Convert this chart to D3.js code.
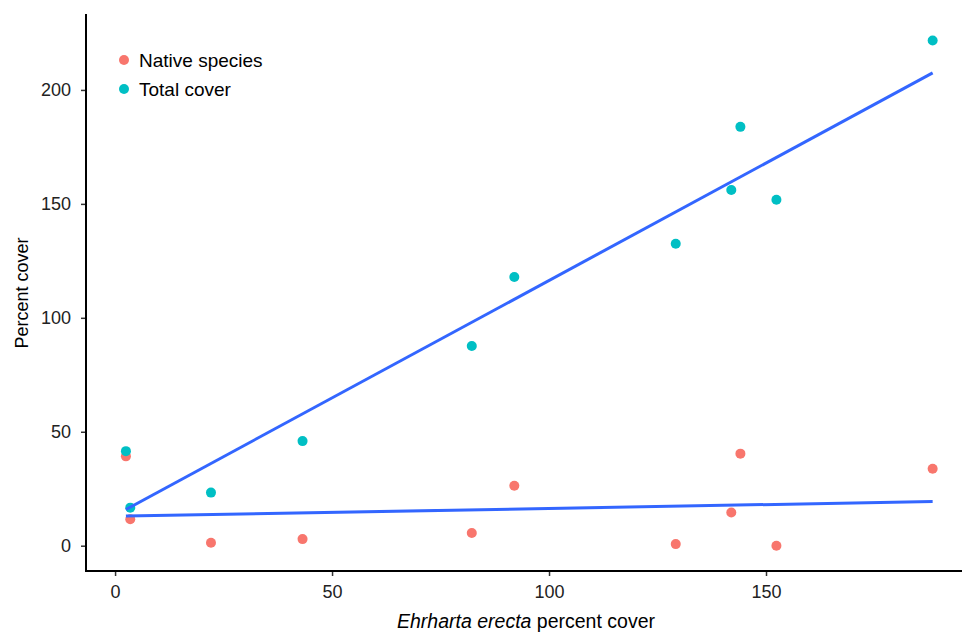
<!DOCTYPE html>
<html>
<head>
<meta charset="utf-8">
<script src="https://cdn.jsdelivr.net/npm/d3@7"></script>
<style>
  body { margin: 0; background: #fff; }
  svg text { font-family: "Liberation Sans", Arial, sans-serif; }
</style>
</head>
<body>
<div id="container"></div>
<script>
// Ehrharta erecta percent cover (x) for each plot
const ehrharta = [2.5, 3.5, 22.1, 43.2, 82.2, 92.0, 129.2, 142.0, 144.1, 152.4, 188.4];
const nativeCover = [39.2, 11.6, 1.3, 2.9, 5.6, 26.3, 0.7, 14.6, 40.4, 0.0, 33.8];
const totalCover = [41.5, 16.7, 23.3, 45.9, 87.6, 117.9, 132.5, 156.1, 183.8, 151.8, 221.7];
const seriesNames = ['Native species', 'Total cover'];
const seriesColors = ['#F8766D', '#00BFC4'];
const xTicks = [0, 50, 100, 150];
const yTicks = [0, 50, 100, 150, 200];

const svg = d3.select('#container')
    .append('svg')
    .attr('width', 962)
    .attr('height', 632);

const xScale = d3.scaleLinear().domain([-6.7, 197.7]).range([86, 973]);
const yScale = d3.scaleLinear().domain([-11.1, 233.1]).range([571, 14.5]);

// simple least squares fit, same as geom_smooth(method = "lm")
function fit(xs, ys) {
    const mx = d3.mean(xs), my = d3.mean(ys);
    let sxy = 0, sxx = 0;
    xs.forEach((x, i) => { sxy += (x - mx) * (ys[i] - my); sxx += (x - mx) * (x - mx); });
    const b = sxy / sxx, a = my - b * mx;
    const x0 = d3.min(xs), x1 = d3.max(xs);
    return [[x0, a + b * x0], [x1, a + b * x1]];
}

const series = [nativeCover, totalCover].map((vals, k) => ({
    name: seriesNames[k],
    color: seriesColors[k],
    points: vals.map((v, i) => ({ x: ehrharta[i], y: v }))
}));

// axes
const xAxis = d3.axisBottom(xScale).tickValues(xTicks).tickSize(5).tickPadding(9);
const yAxis = d3.axisLeft(yScale).tickValues(yTicks).tickSize(5).tickPadding(10);

const gx = svg.append('g')
    .attr('transform', 'translate(0,571)')
    .call(xAxis);
gx.select('.domain').remove();
gx.append('line').attr('x1', 86).attr('x2', 962).attr('stroke', '#000').attr('stroke-width', 2);
gx.selectAll('.tick text').style('font-size', '18px');

const gy = svg.append('g')
    .attr('transform', 'translate(86,0)')
    .call(yAxis);
gy.select('.domain').remove();
gy.append('line').attr('y1', 14).attr('y2', 572).attr('stroke', '#000').attr('stroke-width', 2);
gy.selectAll('.tick text').style('font-size', '18px');

svg.selectAll('.tick line').attr('stroke', '#333').attr('stroke-width', 1.5);
svg.selectAll('.tick text')
    .attr('fill', '#222')
    .style('font-family', '"Liberation Sans", Arial, sans-serif');

// points
series.forEach((s) => {
    svg.append('g')
        .selectAll('circle')
        .data(s.points)
        .enter()
        .append('circle')
        .attr('cx', (d) => xScale(d.x))
        .attr('cy', (d) => yScale(d.y))
        .attr('r', 5)
        .attr('fill', s.color);
});

// regression lines
const line = d3.line().x((d) => xScale(d[0])).y((d) => yScale(d[1]));
series.forEach((s) => {
    svg.append('path')
        .attr('d', line(fit(ehrharta, s.points.map((p) => p.y))))
        .attr('fill', 'none')
        .attr('stroke', '#3366FF')
        .attr('stroke-width', 3);
});

// axis titles
svg.append('text')
    .attr('transform', 'translate(28,293) rotate(-90)')
    .attr('text-anchor', 'middle')
    .style('font-size', '18px')
    .text('Percent cover');

const xTitle = svg.append('text')
    .attr('x', 526)
    .attr('y', 628)
    .attr('text-anchor', 'middle')
    .style('font-size', '19.5px');
xTitle.append('tspan').style('font-style', 'italic').text('Ehrharta erecta');
xTitle.append('tspan').text(' percent cover');

// legend
const legend = svg.append('g').attr('transform', 'translate(124,60)');
series.forEach((s, i) => {
    legend.append('circle')
        .attr('cx', 0)
        .attr('cy', i * 29)
        .attr('r', 5)
        .attr('fill', s.color);
    legend.append('text')
        .attr('x', 15)
        .attr('y', i * 29 + 7)
        .style('font-size', '19px')
        .text(s.name);
});
</script>
</body>
</html>
